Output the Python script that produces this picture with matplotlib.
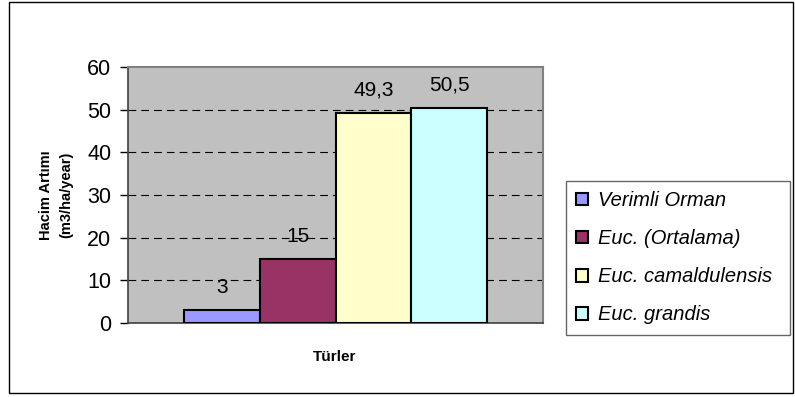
import numpy as np
import matplotlib.pyplot as plt
from matplotlib.patches import Rectangle

plt.rcParams['font.family'] = ['Liberation Sans', 'DejaVu Sans']

# Data
series = ['Verimli Orman', 'Euc. (Ortalama)', 'Euc. camaldulensis', 'Euc. grandis']
values = [3, 15, 49.3, 50.5]
value_labels = ['3', '15', '49,3', '50,5']
colors = ['#9999FF', '#993366', '#FFFFCC', '#CCFFFF']

W, H = 795, 397
fig = plt.figure(figsize=(W / 100, H / 100), dpi=100)

# outer chart border
fig.patches.append(Rectangle((8.5 / W, 1 - 393 / H), (793 - 8.5) / W, (393 - 1.5) / H,
                             transform=fig.transFigure, fill=False,
                             edgecolor='black', linewidth=1.0))

# plot area (pixels: left 128, right 543, top 67, bottom 323)
ax = fig.add_axes([128 / W, 1 - 323 / H, (543 - 128) / W, (323 - 67) / H])
ax.set_facecolor('#C0C0C0')

w = 0.1826
x = (np.arange(len(values)) - 1.5) * w
bars = ax.bar(x, values, width=w, color=colors, edgecolor='black',
              linewidth=1.5, label=series, zorder=3)

for xi, v, lab in zip(x, values, value_labels):
    ax.annotate(lab, (xi, v), xytext=(0, 16.5), textcoords='offset points',
                ha='center', va='center', fontsize=15, zorder=4)

ax.set_xlim(-0.5, 0.5)
ax.set_ylim(0, 60)
ax.set_yticks(range(0, 61, 10))
ax.tick_params(axis='y', labelsize=15.5, length=6, width=1, direction='out', pad=6)
ax.set_xticks([])
for y in range(10, 60, 10):
    ax.axhline(y, color='black', linestyle=(0, (7, 4.5)), linewidth=0.8, zorder=1)

for s in ['top', 'right']:
    ax.spines[s].set_color('#808080')
    ax.spines[s].set_linewidth(1.5)
ax.spines['left'].set_color('#404040')
ax.spines['bottom'].set_color('#404040')
ax.spines['left'].set_linewidth(1.2)
ax.spines['bottom'].set_linewidth(1.2)

ax.set_ylabel('Hacim Artımı\n(m3/ha/year)', fontsize=10.5, fontweight='bold',
              linespacing=1.5)
ax.yaxis.set_label_coords((73 - 128) / 415, 0.5)
fig.text(335 / W, 1 - 357 / H, 'Türler', ha='center', va='center',
         fontsize=11, fontweight='bold')

leg = fig.legend(handles=bars.patches, labels=series,
                 loc='upper left',
                 bbox_to_anchor=(566 / W, 1 - 333 / H, 224 / W, 152 / H),
                 mode='expand',
                 frameon=True, fancybox=False, edgecolor='#404040',
                 prop={'style': 'italic', 'size': 14.5},
                 handlelength=0.6, handleheight=0.6, handletextpad=0.5,
                 labelspacing=0.95, borderpad=0.5, borderaxespad=0)
leg.get_frame().set_linewidth(1.0)

fig.savefig('out.png', dpi=100)
